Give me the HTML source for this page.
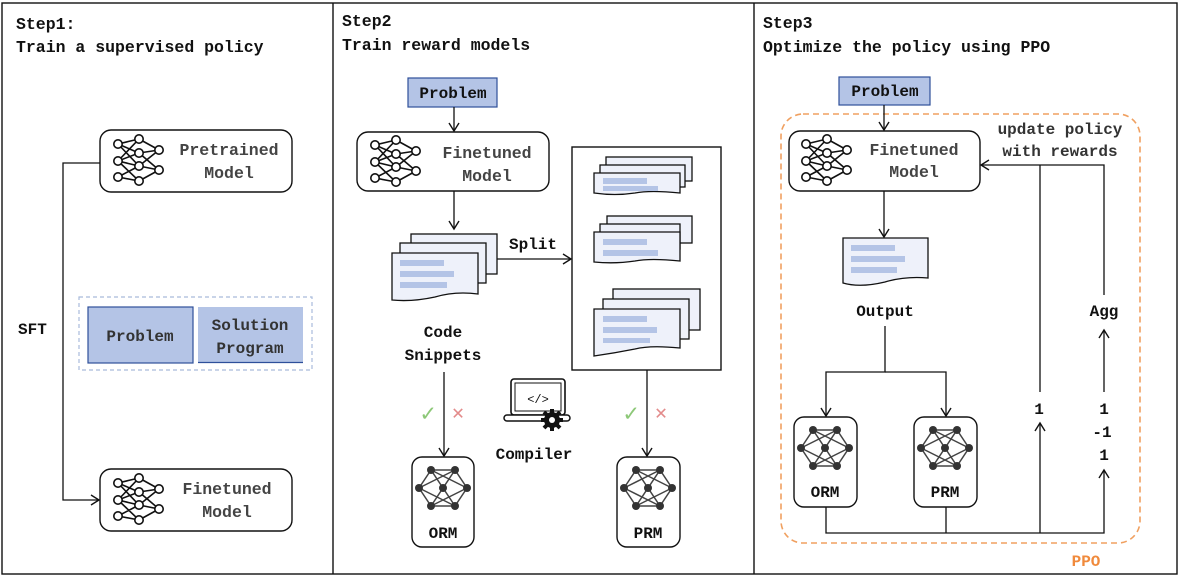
<!DOCTYPE html>
<html><head><meta charset="utf-8"><style>
html,body{margin:0;padding:0;background:#fff;}
svg{display:block;font-family:"Liberation Mono","DejaVu Sans Mono",monospace;font-weight:bold;}
</style></head><body>
<svg width="1180" height="579" viewBox="0 0 1180 579" xmlns="http://www.w3.org/2000/svg">
<defs>
<marker id="a" markerWidth="12" markerHeight="12" refX="10" refY="6" orient="auto" markerUnits="userSpaceOnUse">
<path d="M2,1 L10,6 L2,11" fill="none" stroke="#111" stroke-width="1.4"/></marker>
<g id="nn" stroke="#111" stroke-width="1.6" fill="#fff">
<path d="M0,0 L21,-5 M0,0 L21,9 M0,0 L21,22 M0,17 L21,-5 M0,17 L21,9 M0,17 L21,22 M0,33 L21,22 M0,33 L21,37 M0,17 L21,37 M21,-5 L41,6 M21,9 L41,6 M21,9 L41,26 M21,22 L41,6 M21,22 L41,26 M21,37 L41,26" fill="none"/>
<circle cx="0" cy="0" r="4.2"/><circle cx="0" cy="17" r="4.2"/><circle cx="0" cy="33" r="4.2"/>
<circle cx="21" cy="-5" r="4.2"/><circle cx="21" cy="9" r="4.2"/><circle cx="21" cy="22" r="4.2"/><circle cx="21" cy="37" r="4.2"/>
<circle cx="41" cy="6" r="4.2"/><circle cx="41" cy="26" r="4.2"/>
</g>
<g id="rm" stroke="#444" stroke-width="1.5">
<path d="M-12,-18 L12,-18 M-24,0 L-12,-18 L0,0 L12,-18 L24,0 L12,18 L0,0 L-12,18 L-24,0 M-12,-18 L12,18 M12,-18 L-12,18 M-24,0 L12,18 M24,0 L-12,18 M-24,0 L12,-18 M24,0 L-12,-18 M-12,18 L12,18" fill="none"/>
<g fill="#333" stroke="none"><circle cx="-12" cy="-18" r="4"/><circle cx="12" cy="-18" r="4"/><circle cx="-24" cy="0" r="4"/><circle cx="0" cy="0" r="4"/><circle cx="24" cy="0" r="4"/><circle cx="-12" cy="18" r="4"/><circle cx="12" cy="18" r="4"/></g>
</g>
</defs>
<rect x="2" y="3" width="1175" height="571" fill="none" stroke="#111" stroke-width="1.4"/>
<line x1="333" y1="3" x2="333" y2="574" stroke="#111" stroke-width="1.4"/>
<line x1="754" y1="3" x2="754" y2="574" stroke="#111" stroke-width="1.4"/>

<g font-size="16.5" fill="#111">
<text x="16" y="29">Step1:</text><text x="16" y="52">Train a supervised policy</text>
<text x="342" y="26">Step2</text><text x="342" y="50">Train reward models</text>
<text x="763" y="28">Step3</text><text x="763" y="52">Optimize the policy using PPO</text>
</g>

<!-- Step1 -->
<rect x="100" y="130" width="192" height="62" rx="11" fill="#fff" stroke="#111" stroke-width="1.4"/>
<use href="#nn" x="118" y="144"/>
<text x="229" y="155" font-size="16.5" fill="#444" text-anchor="middle">Pretrained</text>
<text x="229" y="178" font-size="16.5" fill="#444" text-anchor="middle">Model</text>
<rect x="100" y="469" width="192" height="62" rx="11" fill="#fff" stroke="#111" stroke-width="1.4"/>
<use href="#nn" x="118" y="483"/>
<text x="227" y="494" font-size="16.5" fill="#444" text-anchor="middle">Finetuned</text>
<text x="227" y="517" font-size="16.5" fill="#444" text-anchor="middle">Model</text>
<path d="M100,163 H63 V500 H99" fill="none" stroke="#111" stroke-width="1.3" marker-end="url(#a)"/>
<text x="18" y="334" font-size="16" fill="#111">SFT</text>
<rect x="79" y="297" width="233" height="73" fill="none" stroke="#a9bbdb" stroke-width="1.2" stroke-dasharray="4,3"/>
<rect x="88" y="307" width="105" height="56" fill="#b4c4e6" stroke="#2e4f9a" stroke-width="1.2"/>
<text x="140" y="341" font-size="16" fill="#333" text-anchor="middle">Problem</text>
<rect x="198" y="307" width="105" height="56" fill="#b4c4e6"/>
<line x1="198" y1="362.5" x2="303" y2="362.5" stroke="#2e4f9a" stroke-width="1.2"/>
<text x="250" y="330" font-size="16" fill="#333" text-anchor="middle">Solution</text>
<text x="250" y="353" font-size="16" fill="#333" text-anchor="middle">Program</text>

<!-- Step2 -->
<rect x="408" y="78" width="89" height="29" fill="#b4c4e6" stroke="#2e4f9a" stroke-width="1.2"/>
<text x="453" y="98" font-size="16" fill="#111" text-anchor="middle">Problem</text>
<line x1="454" y1="107" x2="454" y2="131" stroke="#111" stroke-width="1.3" marker-end="url(#a)"/>
<rect x="357" y="132" width="192" height="59" rx="11" fill="#fff" stroke="#111" stroke-width="1.4"/>
<use href="#nn" x="375" y="145"/>
<text x="487" y="158" font-size="16.5" fill="#444" text-anchor="middle">Finetuned</text>
<text x="487" y="181" font-size="16.5" fill="#444" text-anchor="middle">Model</text>
<line x1="454" y1="191" x2="454" y2="229" stroke="#111" stroke-width="1.3" marker-end="url(#a)"/>
<rect x="411" y="234" width="86" height="40" fill="#eef1fa" stroke="#111" stroke-width="1.3"/>
<rect x="400" y="243" width="86" height="40" fill="#eef1fa" stroke="#111" stroke-width="1.3"/>
<path d="M392,253 H478 V294 Q455,291 435,297 Q412,302 392,300 Z" fill="#eef1fa" stroke="#111" stroke-width="1.3"/>
<rect x="400" y="260" width="44" height="6" fill="#b4c4e6"/><rect x="400" y="271" width="54" height="6" fill="#b4c4e6"/><rect x="400" y="282" width="47" height="6" fill="#b4c4e6"/>
<line x1="497" y1="259" x2="571" y2="259" stroke="#111" stroke-width="1.3" marker-end="url(#a)"/>
<text x="533" y="249" font-size="16" fill="#111" text-anchor="middle">Split</text>
<rect x="572" y="147" width="149" height="223" fill="#fff" stroke="#111" stroke-width="1.4"/>
<rect x="606" y="157" width="86" height="24" fill="#eef1fa" stroke="#111" stroke-width="1.3"/>
<rect x="600" y="165" width="85" height="22" fill="#eef1fa" stroke="#111" stroke-width="1.3"/>
<path d="M594,173 H680 V193 Q650,190 635,193 Q615,196 594,193 Z" fill="#eef1fa" stroke="#111" stroke-width="1.3"/>
<rect x="603" y="178" width="44" height="6" fill="#b4c4e6"/><rect x="603" y="186" width="55" height="5" fill="#b4c4e6"/>
<rect x="607" y="216" width="85" height="27" fill="#eef1fa" stroke="#111" stroke-width="1.3"/>
<rect x="600" y="224" width="80" height="25" fill="#eef1fa" stroke="#111" stroke-width="1.3"/>
<path d="M594,232 H680 V261 Q650,258 635,261 Q615,264 594,262 Z" fill="#eef1fa" stroke="#111" stroke-width="1.3"/>
<rect x="603" y="239" width="44" height="6" fill="#b4c4e6"/><rect x="603" y="250" width="55" height="6" fill="#b4c4e6"/>
<rect x="613" y="289" width="87" height="41" fill="#eef1fa" stroke="#111" stroke-width="1.3"/>
<rect x="603" y="299" width="86" height="40" fill="#eef1fa" stroke="#111" stroke-width="1.3"/>
<path d="M594,309 H680 V348 Q650,345 635,349 Q615,353 594,356 Z" fill="#eef1fa" stroke="#111" stroke-width="1.3"/>
<rect x="603" y="316" width="44" height="6" fill="#b4c4e6"/><rect x="603" y="327" width="54" height="6" fill="#b4c4e6"/><rect x="603" y="338" width="47" height="5" fill="#b4c4e6"/>
<text x="443" y="337" font-size="16" fill="#111" text-anchor="middle">Code</text>
<text x="443" y="360" font-size="16" fill="#111" text-anchor="middle">Snippets</text>
<line x1="444" y1="372" x2="444" y2="456" stroke="#111" stroke-width="1.3" marker-end="url(#a)"/>
<line x1="647" y1="370" x2="647" y2="456" stroke="#111" stroke-width="1.3" marker-end="url(#a)"/>
<text x="428" y="421" font-size="24" fill="#8dc878" text-anchor="middle">✓</text>
<text x="458" y="419" font-size="20" fill="#e38b8b" text-anchor="middle">✕</text>
<text x="631" y="421" font-size="24" fill="#8dc878" text-anchor="middle">✓</text>
<text x="661" y="419" font-size="20" fill="#e38b8b" text-anchor="middle">✕</text>
<rect x="412" y="457" width="62" height="90" rx="10" fill="#fff" stroke="#111" stroke-width="1.4"/>
<use href="#rm" x="443" y="488"/>
<text x="443" y="538" font-size="16" fill="#111" text-anchor="middle">ORM</text>
<rect x="617" y="457" width="63" height="90" rx="10" fill="#fff" stroke="#111" stroke-width="1.4"/>
<use href="#rm" x="648" y="488"/>
<text x="648" y="538" font-size="16" fill="#111" text-anchor="middle">PRM</text>
<rect x="511" y="379" width="54" height="36" rx="3" fill="#fff" stroke="#111" stroke-width="1.6"/>
<rect x="515" y="383" width="46" height="28" fill="#fff" stroke="#111" stroke-width="1"/>
<text x="538" y="403" font-size="12" fill="#111" text-anchor="middle" font-weight="normal">&lt;/&gt;</text>
<rect x="504" y="415" width="66" height="6" rx="3" fill="#fff" stroke="#111" stroke-width="1.5"/>
<circle cx="552" cy="420" r="8" fill="#111"/>
<g stroke="#111" stroke-width="4"><line x1="552" y1="409" x2="552" y2="431"/><line x1="541" y1="420" x2="563" y2="420"/><line x1="544" y1="412" x2="560" y2="428"/><line x1="560" y1="412" x2="544" y2="428"/></g>
<circle cx="552" cy="420" r="3" fill="#fff"/>
<text x="534" y="459" font-size="16" fill="#111" text-anchor="middle">Compiler</text>

<!-- Step3 -->
<rect x="839" y="77" width="91" height="28" fill="#b4c4e6" stroke="#2e4f9a" stroke-width="1.2"/>
<text x="885" y="96" font-size="16" fill="#111" text-anchor="middle">Problem</text>
<rect x="781" y="114" width="359" height="429" rx="22" fill="none" stroke="#f0a060" stroke-width="1.6" stroke-dasharray="6,4"/>
<line x1="884" y1="105" x2="884" y2="130" stroke="#111" stroke-width="1.3" marker-end="url(#a)"/>
<rect x="789" y="131" width="191" height="60" rx="11" fill="#fff" stroke="#111" stroke-width="1.4"/>
<use href="#nn" x="806" y="144"/>
<text x="914" y="155" font-size="16.5" fill="#444" text-anchor="middle">Finetuned</text>
<text x="914" y="177" font-size="16.5" fill="#444" text-anchor="middle">Model</text>
<text x="1060" y="134" font-size="16" fill="#333" text-anchor="middle">update policy</text>
<text x="1060" y="156" font-size="16" fill="#333" text-anchor="middle">with rewards</text>
<path d="M1104,295 V165 H981" fill="none" stroke="#111" stroke-width="1.3" marker-end="url(#a)"/>
<line x1="1040" y1="165" x2="1040" y2="392" stroke="#111" stroke-width="1.3"/>
<line x1="884" y1="191" x2="884" y2="237" stroke="#111" stroke-width="1.3" marker-end="url(#a)"/>
<path d="M843,238 H928 V278 Q905,276 885,282 Q860,288 843,283 Z" fill="#eef1fa" stroke="#111" stroke-width="1.3"/>
<rect x="851" y="245" width="44" height="6" fill="#b4c4e6"/><rect x="851" y="256" width="54" height="6" fill="#b4c4e6"/><rect x="851" y="267" width="46" height="6" fill="#b4c4e6"/>
<text x="885" y="316" font-size="16" fill="#111" text-anchor="middle">Output</text>
<path d="M885,326 V372 H826 V416" fill="none" stroke="#111" stroke-width="1.3" marker-end="url(#a)"/>
<path d="M885,372 H946 V416" fill="none" stroke="#111" stroke-width="1.3" marker-end="url(#a)"/>
<rect x="794" y="417" width="63" height="90" rx="10" fill="#fff" stroke="#111" stroke-width="1.4"/>
<use href="#rm" x="825" y="448"/>
<text x="825" y="497" font-size="16" fill="#111" text-anchor="middle">ORM</text>
<rect x="914" y="417" width="63" height="90" rx="10" fill="#fff" stroke="#111" stroke-width="1.4"/>
<use href="#rm" x="945" y="448"/>
<text x="945" y="497" font-size="16" fill="#111" text-anchor="middle">PRM</text>
<path d="M826,507 V533 H1104 V470" fill="none" stroke="#111" stroke-width="1.3" marker-end="url(#a)"/>
<line x1="946" y1="507" x2="946" y2="533" stroke="#111" stroke-width="1.3"/>
<line x1="1040" y1="533" x2="1040" y2="423" stroke="#111" stroke-width="1.3" marker-end="url(#a)"/>
<line x1="1104" y1="392" x2="1104" y2="330" stroke="#111" stroke-width="1.3" marker-end="url(#a)"/>
<g font-size="16" fill="#111" text-anchor="middle">
<text x="1039" y="414">1</text>
<text x="1104" y="414">1</text><text x="1102" y="437">-1</text><text x="1104" y="460">1</text>
<text x="1104" y="316">Agg</text>
</g>
<text x="1086" y="566" font-size="16" fill="#f08a3c" text-anchor="middle">PPO</text>
</svg>
</body></html>
